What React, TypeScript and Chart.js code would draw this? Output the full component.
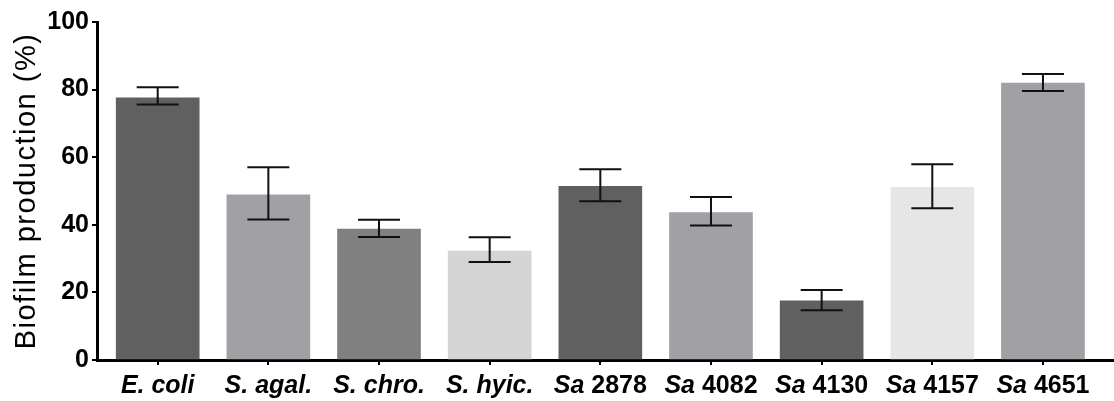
import React, { useEffect, useRef } from "react";
import { Chart, registerables } from "chart.js";

Chart.register(...registerables);

const italicParts = ["E. coli", "S. agal.", "S. chro.", "S. hyic.", "Sa", "Sa", "Sa", "Sa", "Sa"];
const plainParts = ["", "", "", "", " 2878", " 4082", " 4130", " 4157", " 4651"];
const means = [77.6, 48.9, 38.7, 32.2, 51.4, 43.6, 17.5, 51.1, 81.9];
const errHigh = [80.7, 57.0, 41.5, 36.3, 56.4, 48.2, 20.7, 57.9, 84.6];
const errLow = [75.6, 41.6, 36.4, 29.0, 47.0, 39.8, 14.7, 44.9, 79.6];
const barColors = ["#606060", "#a1a0a5", "#808080", "#d4d4d4", "#606060", "#a1a0a5", "#606060", "#e6e6e6", "#a1a0a5"];
const yTicks = [0, 20, 40, 60, 80, 100];
const yTitle = "Biofilm production (%)";

const FONT = '"Liberation Sans", Arial, sans-serif';

const overlayPlugin = {
  id: "overlay",
  afterDatasetsDraw(chart: any) {
    const ctx = chart.ctx;
    const xs = chart.scales.x;
    const ys = chart.scales.y;
    ctx.save();
    ctx.strokeStyle = "#111111";
    ctx.lineWidth = 2;
    for (let i = 0; i < means.length; i++) {
      const x = xs.getPixelForValue(i);
      const yh = ys.getPixelForValue(errHigh[i]);
      const yl = ys.getPixelForValue(errLow[i]);
      ctx.beginPath();
      ctx.moveTo(x, yh);
      ctx.lineTo(x, yl);
      ctx.moveTo(x - 21, yh);
      ctx.lineTo(x + 21, yh);
      ctx.moveTo(x - 21, yl);
      ctx.lineTo(x + 21, yl);
      ctx.stroke();
    }
    ctx.restore();
  },
  afterDraw(chart: any) {
    const ctx = chart.ctx;
    const xs = chart.scales.x;
    ctx.save();
    ctx.fillStyle = "#000000";
    ctx.textBaseline = "alphabetic";
    ctx.textAlign = "left";
    const itFont = `italic bold 25px ${FONT}`;
    const plFont = `bold 25px ${FONT}`;
    for (let i = 0; i < italicParts.length; i++) {
      const x = xs.getPixelForValue(i);
      ctx.font = itFont;
      const w1 = ctx.measureText(italicParts[i]).width;
      ctx.font = plFont;
      const w2 = ctx.measureText(plainParts[i]).width;
      let sx = x - (w1 + w2) / 2;
      ctx.font = itFont;
      ctx.fillText(italicParts[i], sx, 393);
      ctx.font = plFont;
      ctx.fillText(plainParts[i], sx + w1, 393);
    }
    // y axis title
    ctx.translate(35, 191);
    ctx.rotate(-Math.PI / 2);
    ctx.font = `29px ${FONT}`;
    try { (ctx as any).letterSpacing = "1.5px"; } catch (e) {}
    ctx.textAlign = "center";
    ctx.fillText(yTitle, 0, 0);
    ctx.restore();
  },
};

export default function App() {
  const ref = useRef<HTMLCanvasElement>(null);
  useEffect(() => {
    if (!ref.current) return;
    const chart = new Chart(ref.current, {
      type: "bar",
      data: {
        datasets: [
          {
            data: means.map((v, i) => ({ x: i, y: v })),
            backgroundColor: barColors,
            borderWidth: 0,
            barThickness: 83,
          },
        ],
      },
      options: {
        animation: false,
        responsive: false,
        events: [],
        layout: { padding: { top: 22, right: 0, left: 0, bottom: 0 } },
        plugins: { legend: { display: false }, tooltip: { enabled: false }, title: { display: false } },
        scales: {
          x: {
            type: "linear",
            offset: false,
            min: -0.5485,
            max: 8.642,
            afterBuildTicks: (scale: any) => {
              scale.ticks = italicParts.map((_, i) => ({ value: i }));
            },
            afterFit: (scale: any) => {
              scale.height = 41;
            },
            ticks: { display: false },
            grid: { offset: false, drawOnChartArea: false, drawTicks: true, tickLength: 5, color: "#000000", lineWidth: 2 },
            border: { display: true, color: "#000000", width: 3 },
          },
          y: {
            min: 0,
            max: 100,
            afterBuildTicks: (scale: any) => {
              scale.ticks = yTicks.map((v) => ({ value: v }));
            },
            afterFit: (scale: any) => {
              scale.width = 97;
            },
            ticks: {
              color: "#000000",
              padding: 3,
              font: { family: FONT, size: 25, weight: "bold" },
            },
            grid: { drawOnChartArea: false, drawTicks: true, tickLength: 5, color: "#000000", lineWidth: 2 },
            border: { display: true, color: "#000000", width: 3 },
          },
        },
      },
      plugins: [overlayPlugin],
    } as any);
    return () => chart.destroy();
  }, []);
  return (
    <div style={{ position: "absolute", left: 0, top: 0, width: 1114, height: 401, background: "#ffffff" }}>
      <canvas ref={ref} width={1114} height={401} />
    </div>
  );
}
